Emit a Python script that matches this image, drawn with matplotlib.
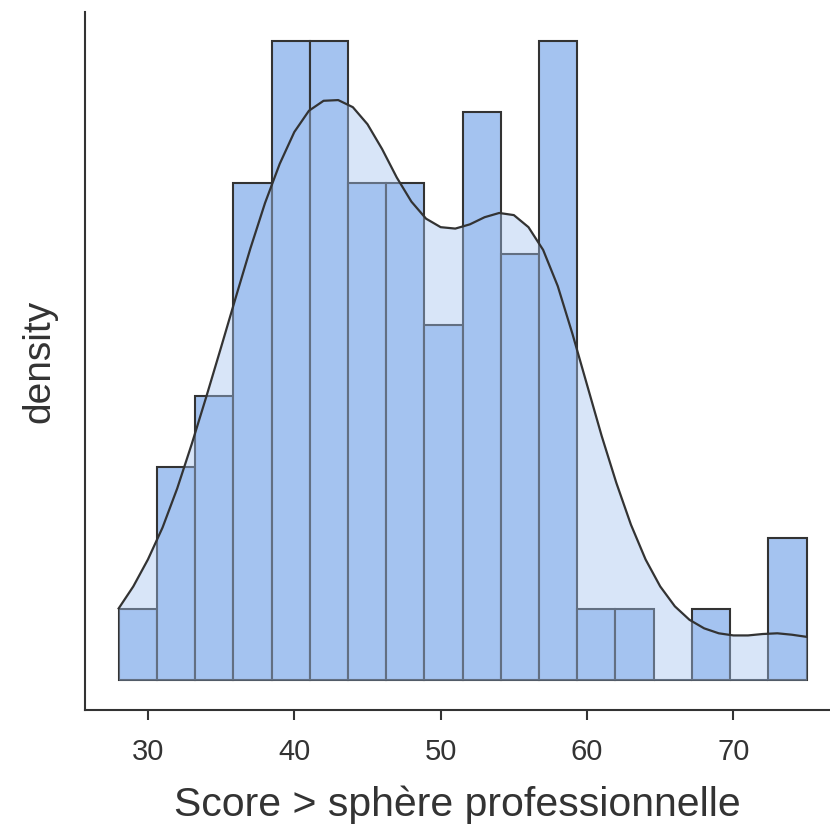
import matplotlib
matplotlib.use("Agg")
import matplotlib.pyplot as plt
import numpy as np

plt.rcParams['font.family'] = ['Liberation Sans', 'DejaVu Sans']

# histogram: 18 bins between 28 and 75
edge_lo, edge_hi, n_bins = 28, 75, 18
counts = [1, 3, 4, 7, 9, 9, 7, 7, 5, 8, 6, 9, 1, 1, 0, 1, 0, 2]

# density curve, in count units (per bin)
kde_x = list(range(28, 76))
kde_count = [1.01, 1.32, 1.70, 2.15, 2.70, 3.33, 4.00, 4.69, 5.39, 6.08,
             6.72, 7.27, 7.72, 8.02, 8.16, 8.17, 8.07, 7.83, 7.48, 7.08,
             6.74, 6.50, 6.38, 6.36, 6.42, 6.52, 6.58, 6.55, 6.38, 6.06,
             5.55, 4.88, 4.16, 3.44, 2.78, 2.19, 1.70, 1.32, 1.04, 0.85,
             0.73, 0.66, 0.63, 0.63, 0.65, 0.66, 0.64, 0.61]

xticks = [30, 40, 50, 60, 70]

edges = np.linspace(edge_lo, edge_hi, n_bins + 1)
width = edges[1] - edges[0]
n = sum(counts)
scale = 1 / (n * width)
kde_y = np.array(kde_count) * scale

fig = plt.figure(figsize=(8.3, 8.3), dpi=100)
ax = fig.add_axes([0.1024, 0.1446, 0.8976, 0.8409])

bar_col = '#a4c3f0'
dark = '#333333'

ax.hist(edges[:-1], bins=edges, weights=counts, density=True,
        color=bar_col, edgecolor=dark, linewidth=1.5, zorder=2)
ax.fill_between(kde_x, 0, kde_y, color=bar_col, alpha=0.42, lw=0, zorder=3)
ax.plot(kde_x, kde_y, color=dark, lw=1.6, zorder=4)

ax.set_xlim(25.7, 76.6)
ax.set_ylim(-0.42 * scale, 9.41 * scale)

ax.set_xticks(xticks)
ax.set_yticks([])
ax.tick_params(axis='x', length=7, width=1.5, color=dark, labelcolor=dark,
               labelsize=21, pad=13)
for s in ['top', 'right']:
    ax.spines[s].set_visible(False)
for s in ['left', 'bottom']:
    ax.spines[s].set_color(dark)
    ax.spines[s].set_linewidth(1.5)

ax.set_xlabel("Score > sphère professionnelle", fontsize=29.5, color=dark, labelpad=14)
ax.set_ylabel("density", fontsize=28, color=dark, labelpad=20)

fig.savefig("out.png", dpi=100)
